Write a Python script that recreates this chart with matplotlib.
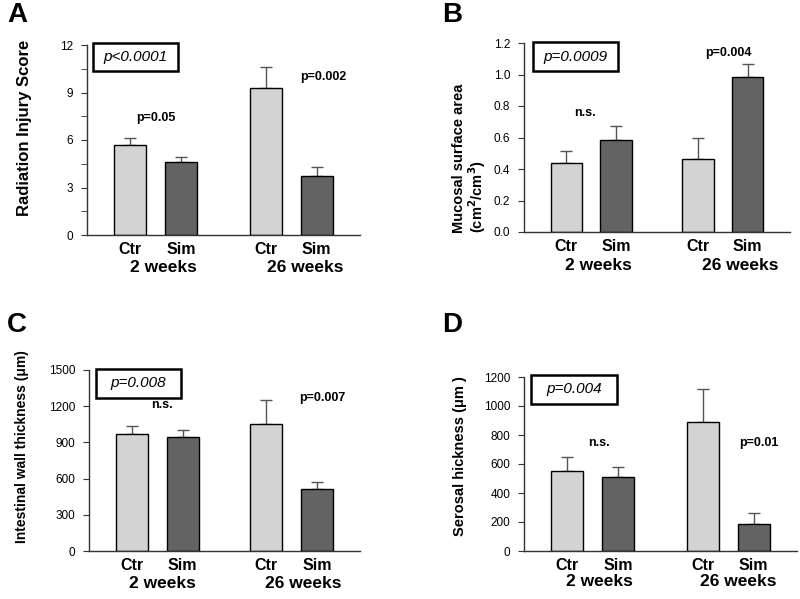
import matplotlib
matplotlib.use("Agg")
import matplotlib.pyplot as plt
import numpy as np
from matplotlib.patches import Rectangle

plt.rcParams['font.family'] = ['Liberation Sans', 'DejaVu Sans']

groups = ["Ctr", "Sim", "Ctr", "Sim"]
weeks = ["2 weeks", "26 weeks"]

# panel A - radiation injury score
injury = [5.7, 4.6, 9.3, 3.7]
injury_err = [0.4, 0.3, 1.3, 0.6]
# panel B - mucosal surface area
mucosal = [0.435, 0.585, 0.465, 0.985]
mucosal_err = [0.08, 0.09, 0.13, 0.08]
# panel C - intestinal wall thickness
wall = [970, 945, 1050, 510]
wall_err = [70, 55, 200, 65]
# panel D - serosal thickness
serosal = [555, 510, 890, 185]
serosal_err = [90, 70, 230, 80]

W, H = 800, 599
fig = plt.figure(figsize=(W / 100, H / 100), dpi=100)

def px(x, y):
    return x / W, 1 - y / H

def make_ax(l, r, t, b):
    return fig.add_axes([l / W, 1 - b / H, (r - l) / W, (b - t) / H])

xpos = np.array([0, 1, 2.65, 3.65])
light = "#d3d3d3"
dark = "#636363"

def draw(ax, vals, errs, ymax, major, minor, fmt):
    ax.bar(xpos, vals, width=0.63, color=[light, dark, light, dark],
           edgecolor="black", linewidth=1, zorder=2)
    ax.errorbar(xpos, vals, yerr=[np.zeros(4), errs], fmt="none",
                ecolor="#555555", elinewidth=1, capsize=4, capthick=1, zorder=1)
    ax.set_xlim(-0.85, 4.5)
    ax.set_ylim(0, ymax)
    ticks = np.arange(0, ymax + major / 2, major)
    ax.set_yticks(ticks)
    ax.set_yticklabels([fmt.format(v) for v in ticks])
    if minor:
        ax.set_yticks(np.arange(0, ymax + minor / 2, minor), minor=True)
    ax.set_xticks(xpos)
    ax.set_xticklabels(groups, fontsize=11.5, fontweight="bold")
    ax.tick_params(axis="x", length=0, pad=5)
    ax.tick_params(axis="y", which="both", length=4, labelsize=8.5, color="#333333",
                   direction="out", pad=6)
    for s in ["top", "right"]:
        ax.spines[s].set_visible(False)
    for s in ["left", "bottom"]:
        ax.spines[s].set_color("#333333")
        ax.spines[s].set_linewidth(1)

def pbox(x0, x1, y0, y1, txt):
    fig.patches.append(Rectangle(px(x0, y1), (x1 - x0) / W, (y1 - y0) / H,
                                 transform=fig.transFigure, fill=False,
                                 edgecolor="black", linewidth=1.8))
    fig.text(*px((x0 + x1) / 2, (y0 + y1) / 2), txt, fontsize=11, style="italic",
             ha="center", va="center")

def note(x, y, txt):
    fig.text(*px(x, y), txt, fontsize=9, fontweight="bold", ha="center", va="center")

def week_labels(x1, x2, y):
    fig.text(*px(x1, y), weeks[0], fontsize=12.5, fontweight="bold", ha="center", va="center")
    fig.text(*px(x2, y), weeks[1], fontsize=12.5, fontweight="bold", ha="center", va="center")

# A
axA = make_ax(87, 360, 45, 235)
draw(axA, injury, injury_err, 12, 3, 1.5, "{:.0f}")
fig.text(*px(17, 15), "A", fontsize=20, fontweight="bold", ha="center", va="center")
fig.text(*px(25, 128), "Radiation Injury Score", fontsize=12, fontweight="bold",
         rotation=90, ha="center", va="center")
pbox(93, 178, 43, 71, "p<0.0001")
note(156, 118, "p=0.05")
note(323, 77, "p=0.002")
week_labels(163, 305, 268)

# B
axB = make_ax(524, 790, 43, 232)
draw(axB, mucosal, mucosal_err, 1.2, 0.2, None, "{:.1f}")
fig.text(*px(452, 15), "B", fontsize=20, fontweight="bold", ha="center", va="center")
fig.text(*px(470, 233), "Mucosal surface area\n(cm$^\\mathbf{2}$/cm$^\\mathbf{3}$)",
         fontsize=10.5, fontweight="bold", rotation=90, ha="center", va="bottom",
         multialignment="left", linespacing=1.05)
pbox(533, 618, 42, 71, "p=0.0009")
note(585, 113, "n.s.")
note(728, 53, "p=0.004")
week_labels(598, 740, 265)

# C
axC = make_ax(89, 360, 370, 551)
draw(axC, wall, wall_err, 1500, 300, None, "{:.0f}")
fig.text(*px(17, 325), "C", fontsize=20, fontweight="bold", ha="center", va="center")
fig.text(*px(22, 447), "Intestinal wall thickness (\u03bcm)", fontsize=10, fontweight="bold",
         rotation=90, ha="center", va="center")
pbox(96, 181, 369, 398, "p=0.008")
note(162, 405, "n.s.")
note(322, 398, "p=0.007")
week_labels(162, 303, 583)

# D
axD = make_ax(524, 797, 377, 551)
draw(axD, serosal, serosal_err, 1200, 200, None, "{:.0f}")
fig.text(*px(452, 325), "D", fontsize=20, fontweight="bold", ha="center", va="center")
fig.text(*px(460, 456), "Serosal hickness (\u03bcm )", fontsize=10.5, fontweight="bold",
         rotation=90, ha="center", va="center")
pbox(531, 617, 375, 404, "p=0.004")
note(599, 443, "n.s.")
note(759, 443, "p=0.01")
week_labels(599, 738, 582)

fig.savefig("out.png", dpi=100)
